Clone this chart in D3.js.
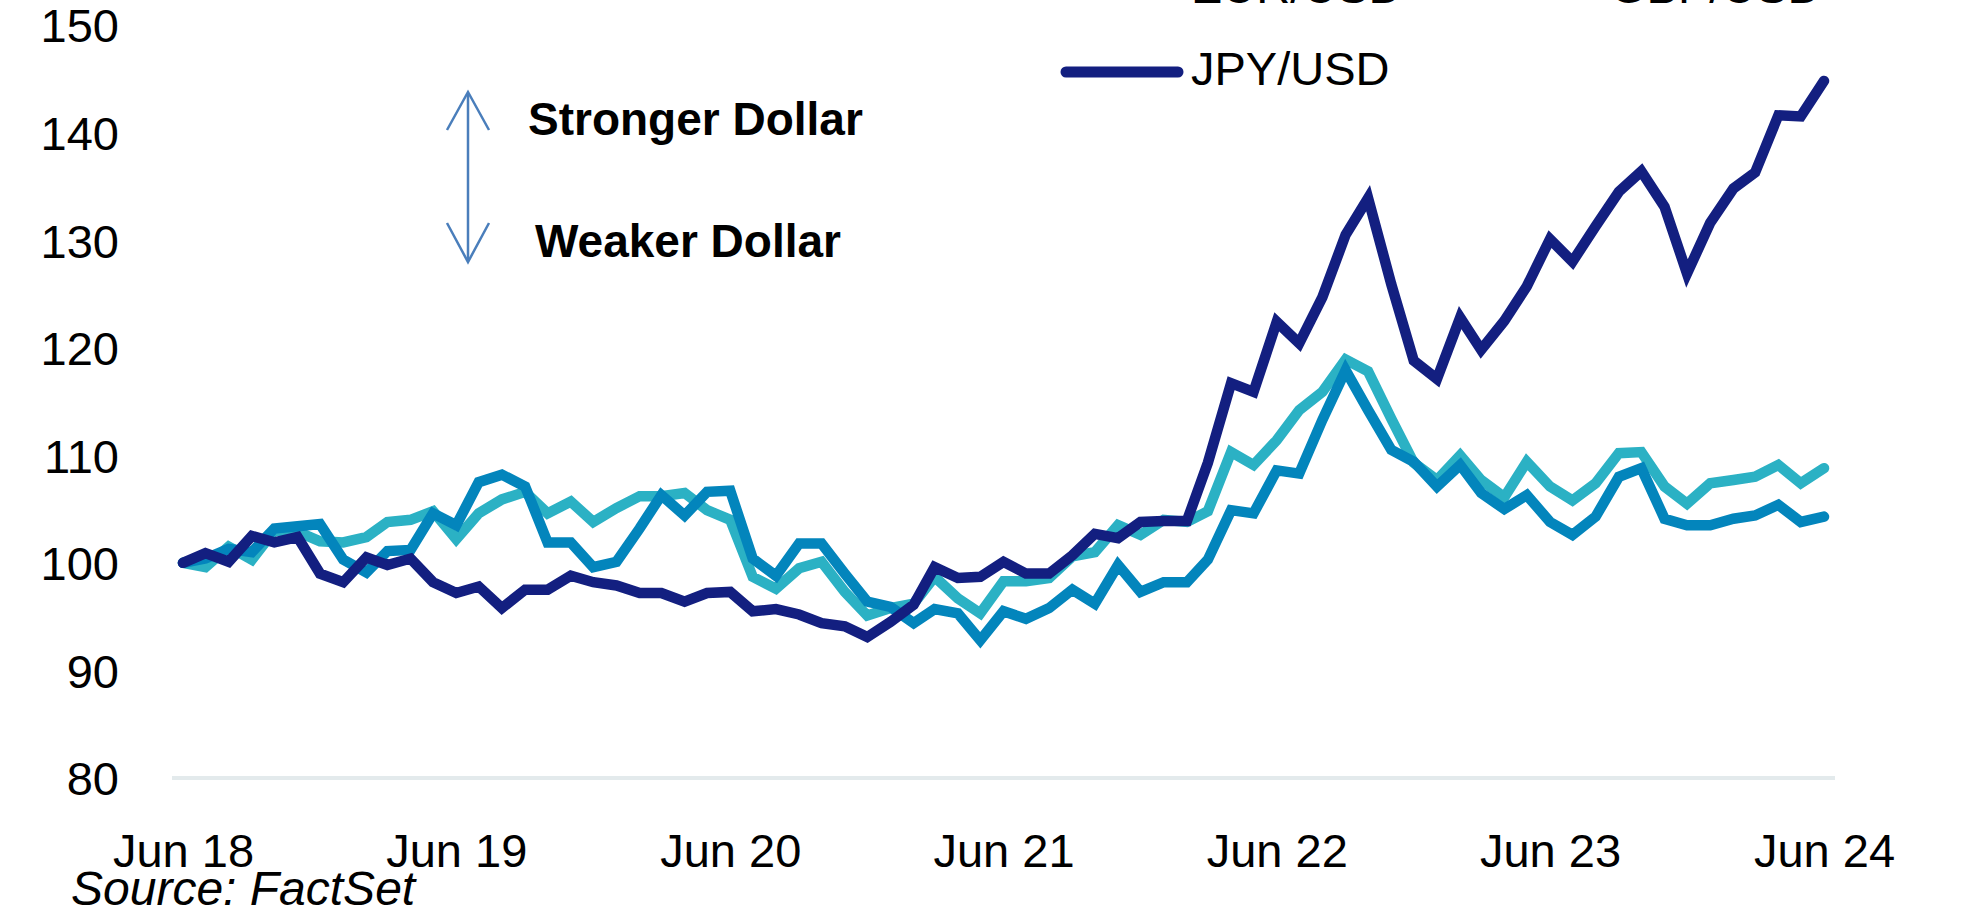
<!DOCTYPE html>
<html>
<head>
<meta charset="utf-8">
<script src="https://cdn.jsdelivr.net/npm/d3@7"></script>
<style>
  body { margin: 0; background: #fff; }
  svg text { font-family: "Liberation Sans", Arial, sans-serif; fill: #000; }
</style>
</head>
<body>
<svg id="chart"></svg>
<script>
// monthly index values, Jun 2018 = 100
var startMonth = "2018-06", endMonth = "2024-06";

var eurUsd = [100.0, 99.6, 101.5, 100.3, 103.0, 102.9, 102.0, 101.9, 102.4, 103.8, 104.0, 104.8,
  102.2, 104.6, 105.9, 106.6, 104.6, 105.7, 103.8, 105.1, 106.2, 106.2, 106.5, 104.9,
  104.0, 98.7, 97.6, 99.5, 100.1, 97.3, 95.1, 95.8, 96.2, 98.7, 96.7, 95.3,
  98.3, 98.3, 98.6, 100.6, 101.0, 103.5, 102.6, 104.0, 103.8, 104.8, 110.3, 109.1,
  111.4, 114.2, 115.9, 118.9, 117.8, 113.4, 109.3, 107.7, 110.0, 107.7, 106.1, 109.4,
  107.1, 105.8, 107.4, 110.2, 110.3, 107.1, 105.5, 107.4, 107.7, 108.0, 109.1, 107.4, 108.8];

var gbpUsd = [100.0, 100.4, 101.3, 101.0, 103.2, 103.4, 103.6, 100.3, 99.1, 101.1, 101.2, 104.6,
  103.5, 107.5, 108.2, 107.1, 101.9, 101.9, 99.6, 100.1, 103.2, 106.3, 104.4, 106.6,
  106.7, 100.4, 98.8, 101.8, 101.8, 99.0, 96.4, 95.9, 94.4, 95.7, 95.3, 92.8,
  95.5, 94.8, 95.8, 97.5, 96.2, 99.8, 97.3, 98.2, 98.2, 100.3, 104.9, 104.6,
  108.6, 108.3, 113.3, 117.9, 114.2, 110.5, 109.4, 107.1, 109.1, 106.5, 105.0, 106.3,
  103.8, 102.6, 104.3, 108.0, 108.8, 104.1, 103.5, 103.5, 104.1, 104.4, 105.4, 103.8, 104.3];

var jpyUsd = [100.0, 100.9, 100.1, 102.5, 101.9, 102.4, 99.0, 98.2, 100.5, 99.8, 100.4, 98.2,
  97.2, 97.8, 95.8, 97.5, 97.5, 98.8, 98.2, 97.9, 97.2, 97.2, 96.4, 97.2,
  97.3, 95.5, 95.7, 95.2, 94.4, 94.1, 93.1, 94.5, 96.1, 99.6, 98.6, 98.7,
  100.1, 99.0, 99.0, 100.7, 102.7, 102.3, 103.8, 103.9, 103.9, 109.3, 116.7, 115.9,
  122.4, 120.4, 124.7, 130.5, 133.9, 125.9, 118.8, 117.1, 122.8, 119.8, 122.5, 125.7,
  130.1, 128.0, 131.3, 134.5, 136.4, 133.1, 126.9, 131.6, 134.8, 136.3, 141.6, 141.5, 144.8];

var seriesNames = ["EUR/USD", "GBP/USD", "JPY/USD"];
var seriesColors = ["#2bb1c4", "#0385bc", "#131f80"];
var yTicks = [80, 90, 100, 110, 120, 130, 140, 150];
var xTickLabels = ["Jun 18", "Jun 19", "Jun 20", "Jun 21", "Jun 22", "Jun 23", "Jun 24"];

var width = 1966, height = 923;
var margin = {top: 25, right: 142, bottom: 145, left: 183};

var parseMonth = d3.timeParse("%Y-%m");
var months = d3.timeMonth.range(parseMonth(startMonth), d3.timeMonth.offset(parseMonth(endMonth), 1));

var x = d3.scaleTime()
    .domain([months[0], months[months.length - 1]])
    .range([margin.left, width - margin.right]);
var y = d3.scaleLinear()
    .domain([80, 150])
    .range([height - margin.bottom, margin.top]);

var svg = d3.select("#chart")
    .attr("width", width)
    .attr("height", height);

// baseline at 80
svg.append("line")
    .attr("x1", x.range()[0] - 11)
    .attr("x2", x.range()[1] + 11)
    .attr("y1", y(80))
    .attr("y2", y(80))
    .attr("stroke", "#e3eaec")
    .attr("stroke-width", 4);

// y axis
var yAxis = svg.append("g")
    .attr("transform", "translate(129,0)")
    .call(d3.axisLeft(y).tickValues(yTicks).tickSize(0).tickPadding(10));
yAxis.select(".domain").remove();
yAxis.selectAll("text")
    .attr("dy", "0.36em")
    .style("font-size", "47px")
    .style("font-family", "'Liberation Sans', Arial, sans-serif")
    .attr("fill", "#000");

// x axis
var xTickDates = xTickLabels.map(function(d, i) { return d3.timeYear.offset(months[0], i); });
var xAxis = svg.append("g")
    .attr("transform", "translate(0," + y(80) + ")")
    .call(d3.axisBottom(x)
      .tickValues(xTickDates)
      .tickSize(0)
      .tickPadding(56)
      .tickFormat(function(d, i) { return xTickLabels[i]; }));
xAxis.select(".domain").remove();
xAxis.selectAll("text")
    .style("font-size", "47px")
    .style("font-family", "'Liberation Sans', Arial, sans-serif")
    .attr("fill", "#000");

// lines
var valueline = d3.line()
    .x(function(d, i) { return x(months[i]); })
    .y(function(d) { return y(d); });

[eurUsd, gbpUsd, jpyUsd].forEach(function(s, k) {
  svg.append("path")
      .datum(s)
      .attr("fill", "none")
      .attr("stroke", seriesColors[k])
      .attr("stroke-width", 10.5)
      .attr("stroke-linecap", "round")
      .attr("stroke-linejoin", "miter")
      .attr("stroke-miterlimit", 3)
      .attr("d", valueline);
});

// legend (top row runs off the top edge)
var legendPos = [[1191, 3], [1610, 3], [1191, 85]];
seriesNames.forEach(function(name, k) {
  var g = svg.append("g")
      .attr("transform", "translate(" + legendPos[k][0] + "," + legendPos[k][1] + ")");
  g.append("line")
      .attr("x1", -125).attr("x2", -13)
      .attr("y1", -13).attr("y2", -13)
      .attr("stroke", seriesColors[k])
      .attr("stroke-width", 11)
      .attr("stroke-linecap", "round");
  g.append("text")
      .attr("x", 0)
      .attr("y", 0)
      .style("font-size", "47px")
      .text(name);
});

// stronger / weaker dollar annotation
var arrowColor = "#4a7ebb";
var ann = svg.append("g").attr("stroke", arrowColor).attr("stroke-width", 2.5).attr("fill", "none");
ann.append("line").attr("x1", 468).attr("x2", 468).attr("y1", 93).attr("y2", 261);
ann.append("polyline").attr("points", "447,130 468,92 489,130");
ann.append("polyline").attr("points", "447,223 468,262 489,223");

svg.append("text")
    .attr("x", 528).attr("y", 135)
    .style("font-size", "46px")
    .style("font-weight", "bold")
    .text("Stronger Dollar");
svg.append("text")
    .attr("x", 535).attr("y", 257)
    .style("font-size", "46px")
    .style("font-weight", "bold")
    .text("Weaker Dollar");

// source
svg.append("text")
    .attr("x", 71).attr("y", 905)
    .style("font-size", "48px")
    .style("font-style", "italic")
    .text("Source: FactSet");
</script>
</body>
</html>
